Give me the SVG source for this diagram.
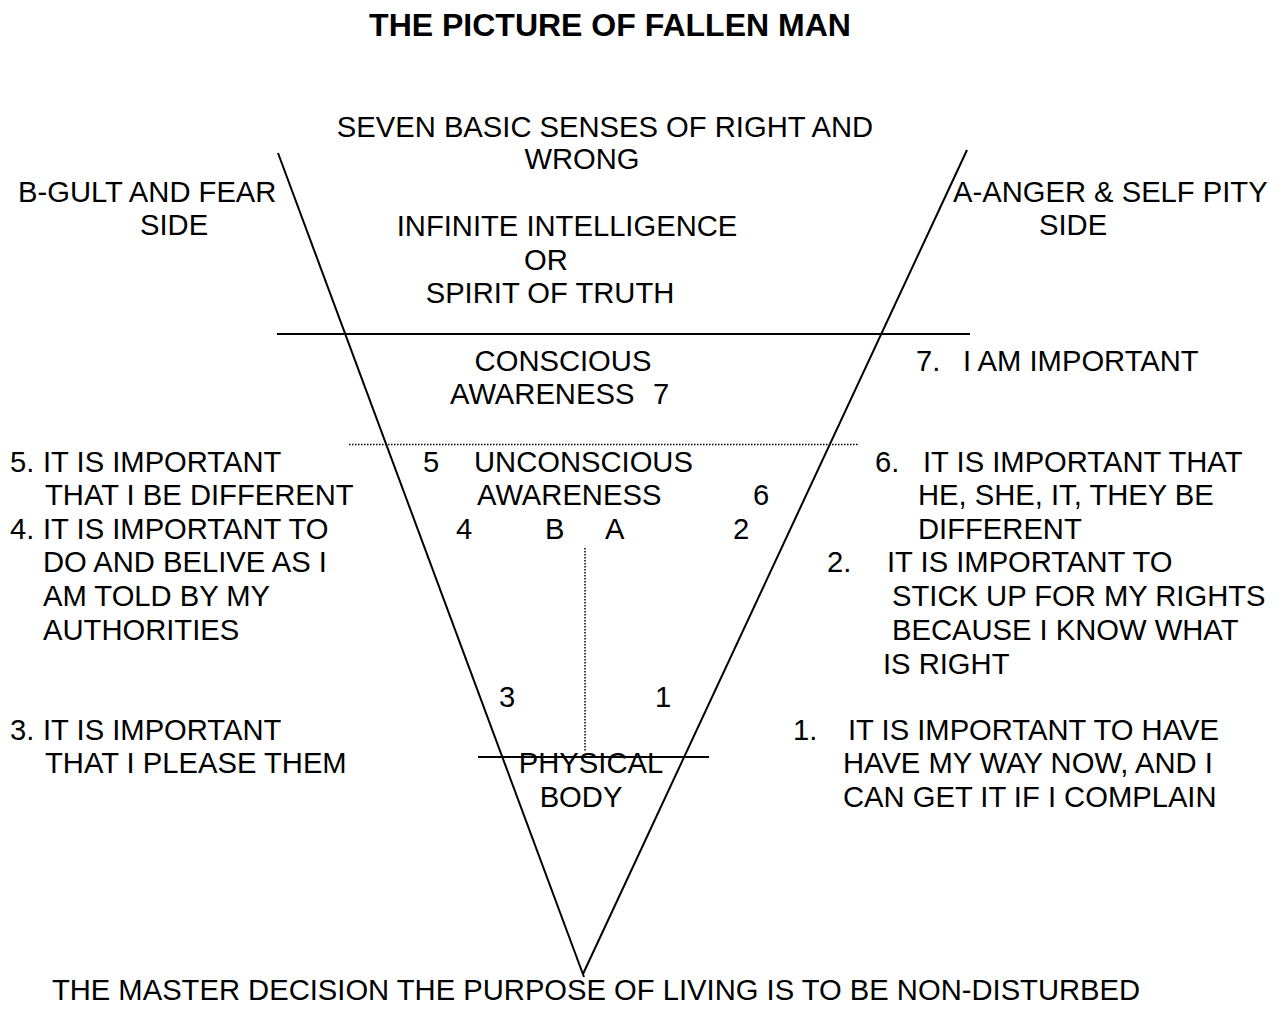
<svg xmlns="http://www.w3.org/2000/svg" width="1280" height="1012" viewBox="0 0 1280 1012">
<style>
text{font-family:"Liberation Sans",Arial,sans-serif;font-size:29.2px;fill:#000}
.title{font-weight:bold;font-size:32px}
.ln{stroke:#000;stroke-width:2;fill:none}
.dot{stroke:#000;stroke-width:1.5;stroke-dasharray:1.5 1.5;fill:none}
</style>
<rect width="1280" height="1012" fill="#fff"/>
<g id="connectors">
<line class="ln" x1="278" y1="153" x2="584" y2="977"/>
<line class="ln" x1="967" y1="150" x2="583" y2="974"/>
<line class="ln" x1="277" y1="334" x2="970" y2="334"/>
<line class="dot" x1="349" y1="444.5" x2="858" y2="444.5"/>
<line class="dot" x1="585" y1="548" x2="585" y2="752"/>
<line class="ln" x1="478" y1="757" x2="709" y2="757"/>
</g>
<g id="title"><text class="title" x="610" y="36" text-anchor="middle">THE PICTURE OF FALLEN MAN</text></g>
<g id="senses"><text x="605" y="137" text-anchor="middle">SEVEN BASIC SENSES OF RIGHT AND</text><text x="582" y="169" text-anchor="middle">WRONG</text></g>
<g id="b-side"><text x="18" y="202">B-GULT AND FEAR</text><text x="140" y="235">SIDE</text></g>
<g id="a-side"><text x="953" y="202">A-ANGER &amp; SELF PITY</text><text x="1039" y="235">SIDE</text></g>
<g id="infinite"><text x="567" y="236" text-anchor="middle">INFINITE INTELLIGENCE</text><text x="546" y="270" text-anchor="middle">OR</text><text x="550" y="303" text-anchor="middle">SPIRIT OF TRUTH</text></g>
<g id="conscious"><text x="563" y="371" text-anchor="middle">CONSCIOUS</text><text x="450" y="404">AWARENESS  <tspan x="653">7</tspan></text></g>
<g id="seven"><text x="916" y="371">7.<tspan x="963">I AM IMPORTANT</tspan></text></g>
<g id="unconscious">
<text x="423" y="472">5</text><text x="474" y="472">UNCONSCIOUS</text>
<text x="477" y="505">AWARENESS</text><text x="753" y="505">6</text>
<text x="456" y="539">4</text><text x="545" y="539">B</text><text x="605" y="539">A</text><text x="733" y="539">2</text>
<text x="499" y="707">3</text><text x="655" y="707">1</text>
</g>
<g id="left-54">
<text x="10" y="472">5.<tspan x="43">IT IS IMPORTANT</tspan></text>
<text x="45" y="505">THAT I BE DIFFERENT</text>
<text x="10" y="539">4.<tspan x="43">IT IS IMPORTANT TO</tspan></text>
<text x="43" y="572">DO AND BELIVE AS I</text>
<text x="43" y="606">AM TOLD BY MY</text>
<text x="43" y="640">AUTHORITIES</text>
</g>
<g id="right-62">
<text x="875" y="472">6.<tspan x="923">IT IS IMPORTANT THAT</tspan></text>
<text x="918" y="505">HE, SHE, IT, THEY BE</text>
<text x="918" y="539">DIFFERENT</text>
<text x="827" y="572">2.<tspan x="887">IT IS IMPORTANT TO</tspan></text>
<text x="892" y="606">STICK UP FOR MY RIGHTS</text>
<text x="892" y="640">BECAUSE I KNOW WHAT</text>
<text x="883" y="674">IS RIGHT</text>
</g>
<g id="left-3">
<text x="10" y="740">3.<tspan x="43">IT IS IMPORTANT</tspan></text>
<text x="45" y="773">THAT I PLEASE THEM</text>
</g>
<g id="right-1">
<text x="793" y="740">1.<tspan x="848">IT IS IMPORTANT TO HAVE</tspan></text>
<text x="843" y="773">HAVE MY WAY NOW, AND I</text>
<text x="843" y="807">CAN GET IT IF I COMPLAIN</text>
</g>
<g id="physical"><text x="591" y="773" text-anchor="middle">PHYSICAL</text><text x="581" y="807" text-anchor="middle">BODY</text></g>
<g id="master"><text x="596" y="1000" text-anchor="middle">THE MASTER DECISION THE PURPOSE OF LIVING IS TO BE NON-DISTURBED</text></g>
</svg>
